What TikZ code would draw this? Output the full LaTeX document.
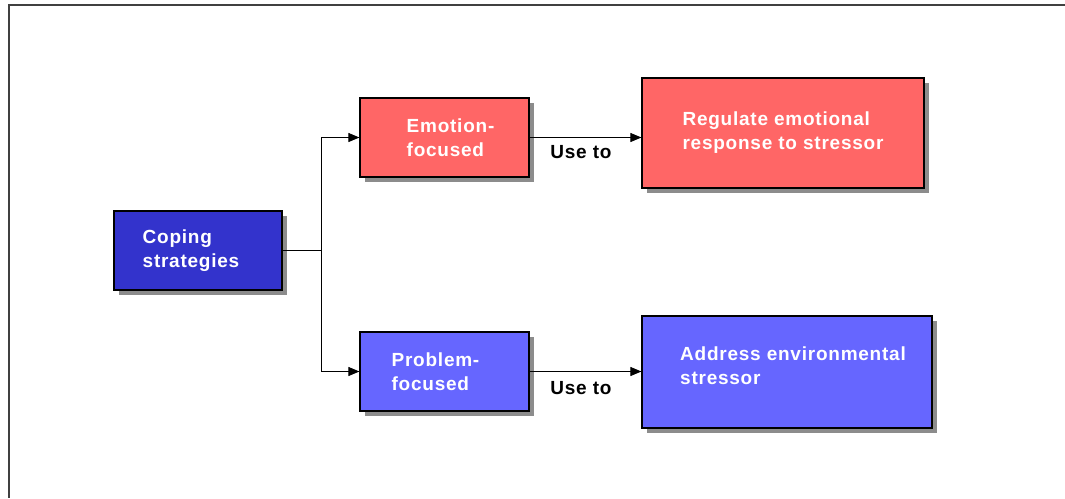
\documentclass[tikz,border=0pt]{standalone}
\usepackage{fontspec}
\setmainfont[LetterSpace=4]{Liberation Sans}
\usetikzlibrary{arrows.meta,shadows}
\definecolor{deepblue}{HTML}{3333CC}
\definecolor{softred}{HTML}{FF6666}
\definecolor{softblue}{HTML}{6666FF}
\begin{document}
\begin{tikzpicture}[x=1pt,y=-1pt,
  box/.style={draw=black,line width=1.2pt,text=white,align=left,
    font=\fontsize{19}{24}\selectfont\bfseries,inner sep=0pt,
    drop shadow={shadow xshift=5pt,shadow yshift=-5pt,fill=black!45,opacity=1}},
  link/.style={line width=1pt,-{Triangle[length=11pt,width=9pt]}},
  tag/.style={font=\fontsize{19}{24}\selectfont\bfseries,text=black,inner sep=0pt}]
  \useasboundingbox (0,0) rectangle (1065,498);
  % frame
  \draw[line width=1.5pt,black!75] (1065,5) -- (9,5) -- (9,498);
  % boxes
  \node[box,fill=deepblue,minimum width=168pt,minimum height=79pt] (coping) at (198,250.5) {Coping\\strategies\hspace*{14pt}};
  \node[box,fill=softred,minimum width=169pt,minimum height=79pt] (emotion) at (444.5,137.5) {\hspace*{12pt}Emotion-\\\hspace*{12pt}focused};
  \node[box,fill=softblue,minimum width=169pt,minimum height=79pt] (problem) at (444.5,371.5) {Problem-\hspace*{18pt}\\focused};
  \node[box,fill=softred,minimum width=282pt,minimum height=110pt] (regulate) at (783,133) {Regulate emotional\\response to stressor};
  \node[box,fill=softblue,minimum width=290pt,minimum height=112pt] (address) at (787,372) {\hspace*{12pt}Address environmental\\\hspace*{12pt}stressor\\[-12pt]};
  % connectors
  \draw[line width=1pt] (coping.east) -- ++(39,0) coordinate (split);
  \draw[link] (split) |- (emotion.west);
  \draw[link] (split) |- (problem.west);
  \draw[link] (emotion.east) -- (regulate.west |- emotion.east);
  \draw[link] (problem.east) -- (address.west |- problem.east);
  % labels
  \node[tag] (use1) at (581,152) {Use to};
  \node[tag] (use2) at (581,388) {Use to};
\end{tikzpicture}
\end{document}
